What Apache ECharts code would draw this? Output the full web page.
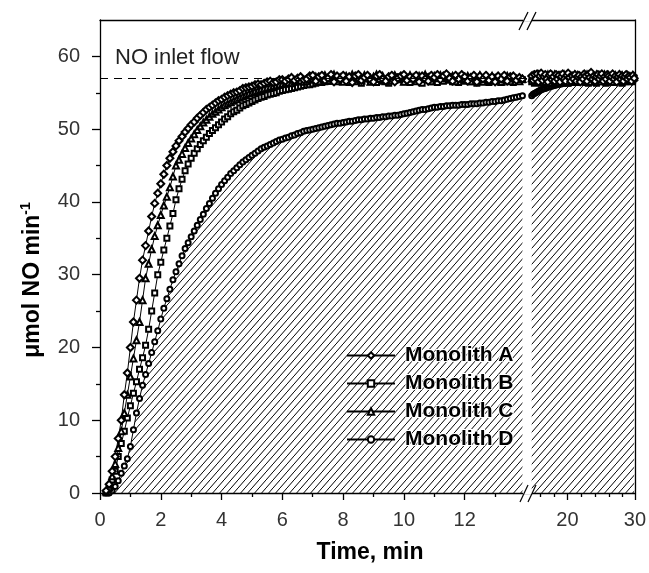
<!DOCTYPE html>
<html>
<head>
<meta charset="utf-8">
<script src="https://cdn.jsdelivr.net/npm/echarts@6/dist/echarts.min.js"></script>
<style>html,body{margin:0;padding:0;background:#fff}#c{width:649px;height:573px}</style>
</head>
<body>
<div id="c"></div>
<script>
// ---- data (segment 1: 0-14 min, segment 2: 14-30 min after the axis break) ----
const T1 = [0.2,0.3,0.4,0.5,0.6,0.7,0.8,0.9,1.0,1.1,
  1.2,1.3,1.4,1.5,1.6,1.7,1.8,1.9,2.0,2.1,
  2.2,2.3,2.4,2.5,2.6,2.7,2.8,2.9,3.0,3.1,
  3.2,3.3,3.4,3.5,3.6,3.7,3.8,3.9,4.0,4.1,
  4.2,4.3,4.4,4.5,4.6,4.7,4.8,4.9,5.0,5.1,
  5.2,5.3,5.4,5.5,5.6,5.7,5.8,5.9,6.0,6.1,
  6.2,6.3,6.4,6.5,6.6,6.7,6.8,6.9,7.0,7.1,
  7.2,7.3,7.4,7.5,7.6,7.7,7.8,7.9,8.0,8.1,
  8.2,8.3,8.4,8.5,8.6,8.7,8.8,8.9,9.0,9.1,
  9.2,9.3,9.4,9.5,9.6,9.7,9.8,9.9,10.0,10.1,
  10.2,10.3,10.4,10.5,10.6,10.7,10.8,10.9,11.0,11.1,
  11.2,11.3,11.4,11.5,11.6,11.7,11.8,11.9,12.0,12.1,
  12.2,12.3,12.4,12.5,12.6,12.7,12.8,12.9,13.0,13.1,
  13.2,13.3,13.4,13.5,13.6,13.7,13.8,13.9];
const A1 = [0.3,1.2,3.0,5.0,7.5,10.0,13.5,16.5,20.0,23.5,26.5,29.5,32.0,34.0,36.0,38.0,39.8,41.2,42.5,43.8,45.0,46.0,46.9,47.7,48.4,49.0,49.6,50.1,50.6,
  51.0,51.5,51.9,52.3,52.7,53.0,53.3,53.6,53.9,54.1,54.4,54.6,54.8,55.0,55.1,55.3,55.6,55.7,55.8,55.9,
  56.1,56.2,56.1,56.3,56.5,56.6,56.4,56.5,56.8,56.8,56.6,56.9,57.1,56.7,57.0,57.2,56.8,56.9,57.3,57.4,
  56.6,57.2,57.4,56.7,57.0,57.5,56.5,57.3,56.9,57.4,
  56.6,57.2,56.4,57.3,57.5,56.7,57.1,57.4,56.8,56.5,
  57.3,57.5,56.9,56.6,57.2,57.4,56.5,57.0,57.3,57.5,
  56.7,57.2,56.9,57.4,56.5,57.3,56.9,56.6,57.4,57.1,
  57.5,56.8,57.3,57.6,57.0,56.6,57.4,56.9,57.5,57.2,
  56.6,57.1,57.4,56.5,57.3,56.9,57.4,56.7,57.2,56.5,
  57.3,56.9,57.4,56.6,57.2,57.3,56.7,57.1,56.9];
const B1 = [0.0,0.6,1.8,3.0,5.0,6.8,8.5,10.3,12.0,13.7,15.3,17.0,18.6,20.3,22.5,25.0,27.5,30.0,31.7,33.4,35.0,36.7,38.4,40.3,41.8,43.1,44.3,45.2,46.0,
  46.7,47.3,47.9,48.4,48.9,49.4,49.8,50.2,50.6,51.0,51.4,51.7,52.1,52.4,52.6,52.9,53.2,53.4,53.6,53.8,
  54.0,54.2,54.4,54.5,54.7,54.8,54.9,55.0,55.2,55.3,55.4,55.5,55.6,55.7,55.8,55.9,56.0,56.1,56.1,56.2,
  56.3,56.4,56.4,56.5,56.6,56.6,56.7,56.7,56.8,56.8,
  57.0,56.4,57.1,56.6,57.0,56.3,56.9,57.2,56.5,56.9,
  56.4,57.1,56.6,56.9,56.3,57.1,56.7,57.2,56.8,56.5,
  57.0,56.4,56.9,56.6,57.1,56.3,56.9,57.2,56.5,56.9,
  56.4,57.1,56.6,56.9,57.2,56.5,57.0,56.4,56.9,56.6,
  57.1,56.5,56.9,56.3,57.0,56.6,56.9,56.4,57.1,56.6,
  56.9,56.4,56.9,56.6,57.0,56.4,56.9,56.6,56.8];
const C1 = [0.2,0.8,2.3,4.0,6.2,8.5,11.0,13.5,16.0,18.5,21.0,23.5,26.5,29.5,31.5,33.5,35.3,36.8,38.2,39.5,40.7,42.0,43.5,45.0,45.8,46.6,47.4,48.1,48.7,
  49.3,49.9,50.4,50.9,51.3,51.7,52.1,52.4,52.7,53.0,53.3,53.5,53.7,53.9,54.1,54.3,54.5,54.7,54.9,55.0,
  55.2,55.3,55.5,55.6,55.7,55.8,55.9,56.0,56.1,56.2,56.3,56.4,56.3,56.5,56.7,56.7,56.5,56.6,56.8,56.9,
  57.2,56.6,57.0,57.4,56.7,57.2,57.5,56.6,57.1,56.5,
  57.3,56.9,57.5,56.6,57.1,56.7,57.4,57.0,56.5,57.2,
  57.5,56.9,57.3,56.6,57.1,56.7,57.4,57.0,57.2,56.5,
  57.0,57.4,57.1,56.6,57.3,56.9,57.5,57.1,56.6,57.3,
  57.0,57.4,57.1,57.5,56.8,57.3,56.6,57.1,57.4,56.9,
  57.3,56.6,57.1,56.9,57.4,56.5,57.2,56.7,57.3,57.0,
  57.2,56.5,57.0,57.3,56.6,57.2,56.9,56.6,56.9];
const D1 = [0.0,0.0,0.3,0.9,1.7,2.7,3.7,4.7,6.4,8.7,11.0,13.0,14.8,16.3,17.8,19.3,20.8,22.3,23.9,25.4,26.7,28.0,29.3,30.4,31.5,32.6,33.6,34.4,35.2,
  36.0,36.8,37.6,38.3,39.1,39.8,40.5,41.2,41.8,42.4,42.9,43.4,43.9,44.3,44.7,45.1,45.5,45.8,46.1,46.4,
  46.7,47.0,47.3,47.5,47.7,47.9,48.1,48.3,48.5,48.6,48.8,48.9,49.1,49.2,49.4,49.5,49.7,49.8,49.9,50.0,
  50.1,50.2,50.3,50.4,50.5,50.6,50.7,50.8,50.8,50.9,51.0,51.1,51.1,51.2,51.3,51.3,51.4,51.4,51.5,51.5,
  51.6,51.6,51.7,51.7,51.8,51.8,51.9,51.9,52.0,52.1,52.2,52.3,52.4,52.5,52.6,52.7,52.7,52.8,52.9,53.0,
  53.0,53.1,53.1,53.2,53.2,53.3,53.3,53.3,53.4,53.4,53.4,53.5,53.5,53.5,53.6,53.6,53.7,53.7,53.8,53.8,
  53.9,53.9,54.0,54.1,54.2,54.3,54.4,54.5,54.6];

const T2 = [14.7,14.9,15.1,15.3,15.5,15.7,15.9,16.1,16.3,16.5,
  16.7,16.9,17.1,17.3,17.5,17.7,17.9,18.1,18.3,18.5,
  18.7,18.9,19.1,19.3,19.5,19.7,19.9,20.1,20.3,20.5,
  20.7,20.9,21.1,21.3,21.5,21.7,21.9,22.1,22.3,22.5,
  22.7,22.9,23.1,23.3,23.5,23.7,23.9,24.1,24.3,24.5,
  24.7,24.9,25.1,25.3,25.5,25.7,25.9,26.1,26.3,26.5,
  26.7,26.9,27.1,27.3,27.5,27.7,27.9,28.1,28.3,28.5,
  28.7,28.9,29.1,29.3,29.5,29.7,29.9];
const A2 = [57.3,56.7,57.5,56.9,57.6,56.5,57.3,57.7,56.7,57.2,
  57.5,56.9,56.5,57.4,57.6,56.8,57.2,56.6,57.5,56.9,
  57.4,56.5,57.2,57.6,56.9,56.6,57.4,57.7,57.1,56.6,
  57.3,56.9,57.5,56.6,57.2,57.4,56.5,57.2,56.9,57.6,
  57.3,56.6,57.5,57.1,57.8,56.9,57.3,56.6,57.2,57.5,
  56.9,57.3,57.6,56.6,57.2,56.9,57.5,57.3,56.6,57.2,
  57.6,56.9,57.3,56.5,57.2,57.5,56.9,57.3,56.6,57.2,
  57.5,56.9,57.3,57.1,56.6,57.4,57.0];
const B2 = [56.5,57.0,56.3,56.8,57.2,56.5,57.0,56.3,56.8,57.3,
  56.5,57.0,56.7,56.3,57.2,56.7,57.0,56.4,57.2,56.7,
  56.3,57.0,56.7,57.2,56.5,57.0,56.7,56.3,57.0,57.2,
  56.5,56.8,57.1,56.4,57.2,56.7,57.0,56.5,56.8,57.2,
  56.4,57.0,56.3,56.8,57.1,56.5,57.2,56.7,56.3,57.0,
  56.7,57.2,56.5,57.0,56.7,56.3,57.0,56.5,57.2,56.7,
  57.0,56.4,56.8,57.2,56.5,57.0,56.7,56.3,57.0,56.7,
  56.5,57.0,56.7,57.2,56.5,56.8,57.0];
const C2 = [57.0,57.4,56.7,57.2,56.5,57.5,57.0,56.7,57.4,57.0,
  56.5,57.2,57.5,57.0,56.7,57.4,57.0,57.5,56.7,57.2,
  57.0,57.4,56.6,57.0,57.5,57.2,56.5,57.0,57.4,57.0,
  56.7,57.2,57.5,57.0,57.4,56.6,57.2,57.0,57.4,56.7,
  57.2,57.5,57.0,56.5,57.4,57.0,57.2,56.7,57.5,57.0,
  57.4,56.6,57.2,57.0,57.5,57.2,56.7,57.4,57.0,57.2,
  56.5,57.0,57.4,57.2,56.7,57.5,57.0,57.4,56.6,57.2,
  57.0,57.4,56.7,57.2,57.0,57.4,57.2];
const D2 = [54.6,54.8,54.9,55.0,55.1,55.2,55.3,55.4,55.5,55.6,55.6,55.7,55.8,55.8,55.9,55.9,56.0,56.0,56.1,56.1,
  56.2,56.2,56.2,56.3,56.3,56.3,56.4,56.4,56.3,56.4,56.5,56.4,56.5,56.5,56.4,56.5,56.6,56.5,56.6,56.5,
  56.6,56.6,56.5,56.6,56.7,56.6,56.6,56.7,56.6,56.7,56.7,56.6,56.7,56.7,56.8,56.7,56.7,56.8,56.7,56.7,
  56.8,56.7,56.8,56.8,56.7,56.8,56.8,56.7,56.8,56.8,56.9,56.8,56.8,56.9,56.8,56.8,56.9];

const NAMES = ['Monolith A','Monolith B','Monolith C','Monolith D'];
const INLET = 57;
const X1_MAJOR = [0,2,4,6,8,10,12];
const X1_MINOR = [1,3,5,7,9,11,13];
const X2_MAJOR = [20,30];
const X2_MINOR = [16,18,22,24,26,28];
const Y_MAJOR = [0,10,20,30,40,50,60];
const Y_MINOR = [5,15,25,35,45,55];

// ---- rendering ----
const FONT = "'Liberation Sans', Arial, sans-serif";
function hatch(){
  const w=7,h=8;
  const c=document.createElement('canvas'); c.width=w; c.height=h;
  const g=c.getContext('2d'); g.strokeStyle='#000'; g.lineWidth=1;
  g.beginPath(); g.moveTo(-w,2*h); g.lineTo(2*w,-h); g.stroke();
  return c;
}
const pat = {image: hatch(), repeat: 'repeat'};
const pairs = (T,V)=>T.slice(0, Math.min(T.length, V.length)).map((t,i)=>[t,V[i]]);
const SYM = {'Monolith A':['emptyDiamond',7],'Monolith B':['emptyRect',5],'Monolith C':['emptyTriangle',6],'Monolith D':['emptyCircle',5]};
function ser(name, T, V, seg, extra){
  return Object.assign({
    type:'line', name, data: pairs(T,V), xAxisIndex: seg===1?0:2, yAxisIndex: seg===1?0:1,
    symbol: SYM[name][0], symbolSize: SYM[name][1], showAllSymbol:true,
    lineStyle:{color:'#000', width:1}, itemStyle:{color:'#000', borderWidth:1},
    emphasis:{disabled:true}, animation:false
  }, extra||{});
}
const AX = {color:'#000', width:1.3};
const chart = echarts.init(document.getElementById('c'), null, {renderer:'canvas'});
chart.setOption({
  animation:false,
  grid:[
    {left:100, top:20, width:427, bottom:80},
    {left:527, top:20, width:109, bottom:80},
    {left:100, top:20, width:427, bottom:80},
    {left:527, top:20, width:109, bottom:80}
  ],
  xAxis:[
    {gridIndex:0, type:'value', min:0, max:14.05, axisLine:{lineStyle:AX}, splitLine:{show:false},
     axisTick:{length:7, customValues:X1_MAJOR, lineStyle:AX},
     axisLabel:{customValues:X1_MAJOR, margin:17, fontSize:20, color:'#333', fontFamily:FONT}},
    {gridIndex:0, type:'value', position:'top', min:0, max:14.05, axisLine:{lineStyle:AX}, axisTick:{show:false}, axisLabel:{show:false}, splitLine:{show:false}},
    {gridIndex:1, type:'value', min:14, max:30, axisLine:{lineStyle:AX}, splitLine:{show:false},
     axisTick:{length:7, customValues:X2_MAJOR, lineStyle:AX},
     axisLabel:{customValues:X2_MAJOR, margin:17, fontSize:20, color:'#333', fontFamily:FONT}},
    {gridIndex:1, type:'value', position:'top', min:14, max:30, axisLine:{lineStyle:AX}, axisTick:{show:false}, axisLabel:{show:false}, splitLine:{show:false}},
    {gridIndex:2, type:'value', min:0, max:14.05, axisLine:{show:false}, axisLabel:{show:false}, splitLine:{show:false},
     axisTick:{length:4, customValues:X1_MINOR, lineStyle:AX}},
    {gridIndex:3, type:'value', min:14, max:30, axisLine:{show:false}, axisLabel:{show:false}, splitLine:{show:false},
     axisTick:{length:4, customValues:X2_MINOR, lineStyle:AX}}
  ],
  yAxis:[
    {gridIndex:0, type:'value', min:0, max:65, axisLine:{lineStyle:AX}, splitLine:{show:false},
     axisTick:{length:8, customValues:Y_MAJOR, lineStyle:AX},
     axisLabel:{customValues:Y_MAJOR, margin:20, fontSize:20, color:'#333', fontFamily:FONT}},
    {gridIndex:1, type:'value', position:'right', min:0, max:65, axisLine:{lineStyle:AX}, axisTick:{show:false}, axisLabel:{show:false}, splitLine:{show:false}},
    {gridIndex:2, type:'value', min:0, max:65, axisLine:{show:false}, axisLabel:{show:false}, splitLine:{show:false},
     axisTick:{length:4, customValues:Y_MINOR, lineStyle:AX}},
    {gridIndex:3, type:'value', min:0, max:65, show:false}
  ],
  legend:{
    data:NAMES, orient:'vertical', left:341, top:339, itemWidth:48, itemHeight:8, itemGap:5,
    selectedMode:false,
    textStyle:{fontSize:21, lineHeight:21, fontWeight:'bold', color:'#000', fontFamily:FONT, textBorderColor:'#fff', textBorderWidth:2, padding:[0,0,0,5]}
  },
  series:[
    ser('Monolith D', T1, D1, 1, {areaStyle:{color:pat, opacity:1}}),
    ser('Monolith B', T1, B1, 1),
    ser('Monolith C', T1, C1, 1),
    ser('Monolith A', T1, A1, 1, {markLine:{silent:true, symbol:['none','none'], label:{show:false},
        lineStyle:{color:'#000', width:1, type:[8,6]}, data:[{yAxis:INLET}]}}),
    ser('Monolith D', T2, D2, 2, {areaStyle:{color:pat, opacity:1}}),
    ser('Monolith B', T2, B2, 2),
    ser('Monolith C', T2, C2, 2),
    ser('Monolith A', T2, A2, 2)
  ],
  graphic:[
    {type:'text', left:115, top:47, style:{text:'NO inlet flow', fontSize:22, fill:'#222', fontFamily:FONT}},
    {type:'text', x:370, y:553, style:{text:'Time, min', fontSize:23, fontWeight:'bold', fill:'#000', fontFamily:FONT, align:'center', verticalAlign:'middle'}},
    {type:'text', x:33, y:280, rotation:Math.PI/2,
     style:{text:'{a|\u03bcmol NO min}{b|-1}', align:'center', verticalAlign:'middle',
       rich:{a:{fontSize:23, fontWeight:'bold', fill:'#000', fontFamily:FONT, lineHeight:27},
             b:{fontSize:14, fontWeight:'bold', fill:'#000', fontFamily:FONT, verticalAlign:'top', lineHeight:27}}}},
    {type:'line', shape:{x1:523,y1:20,x2:532,y2:20}, style:{stroke:'#fff', lineWidth:3}, z:100},
    {type:'line', shape:{x1:519,y1:30,x2:528,y2:12}, style:{stroke:'#000', lineWidth:1.2}, z:101},
    {type:'line', shape:{x1:527,y1:30,x2:536,y2:12}, style:{stroke:'#000', lineWidth:1.2}, z:101},
    {type:'line', shape:{x1:523,y1:493,x2:532,y2:493}, style:{stroke:'#fff', lineWidth:3}, z:100},
    {type:'line', shape:{x1:520,y1:502,x2:528,y2:485}, style:{stroke:'#000', lineWidth:1.2}, z:101},
    {type:'line', shape:{x1:528,y1:502,x2:536,y2:485}, style:{stroke:'#000', lineWidth:1.2}, z:101}
  ]
});
</script>
</body>
</html>
